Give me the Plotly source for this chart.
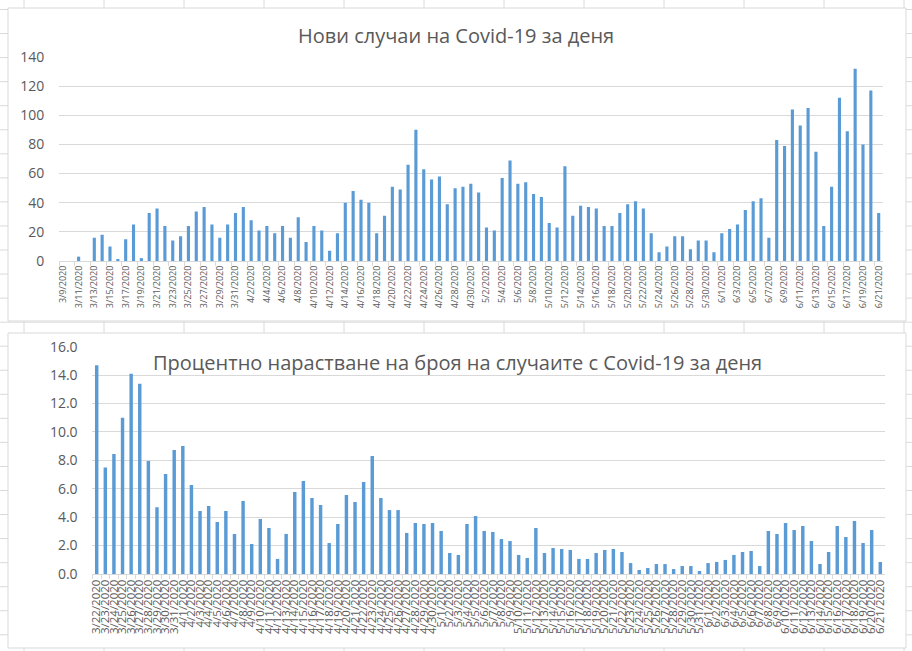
import plotly.graph_objects as go
import pandas as pd

W, H = 912, 651

# ---------------- data ----------------
dates_new = [f"{d.month}/{d.day}/{d.year}" for d in pd.date_range("2020-03-09", "2020-06-21")]
new_cases = [
    0, 0, 3, 0, 16, 18, 10, 1, 15, 25, 2, 33, 36, 24, 14, 17, 24, 34, 37, 25, 16, 25, 33,
    37, 28, 21, 24, 19, 24, 16, 30, 13, 24, 21, 7, 19, 40, 48, 42, 40, 19, 31, 51, 49, 66,
    90, 63, 56, 58, 39, 50, 51, 53,
    47, 23, 21, 57, 69, 53, 54, 46, 44, 26, 23, 65, 31, 38, 37, 36, 24, 24, 33, 39, 41, 36,
    19, 6, 10, 17, 17, 8, 14, 14, 6,
    19, 22, 25, 35, 41, 43, 16, 83, 79, 104, 93, 105, 75, 24, 51, 112, 89, 132, 80, 117, 33,
]

dates_pct = [f"{d.month}/{d.day}/{d.year}" for d in pd.date_range("2020-03-22", "2020-06-21")]
pct_growth = [
    14.7, 7.5, 8.45, 11.0, 14.1, 13.4, 7.96, 4.7, 7.04, 8.73, 9.01, 6.27, 4.44, 4.79, 3.66,
    4.44, 2.82, 5.14, 2.11, 3.87, 3.24, 1.06, 2.82, 5.77, 6.55,
    5.35, 4.86, 2.18, 3.52, 5.56, 5.07, 6.48, 8.31, 5.35, 4.5, 4.5, 2.89, 3.59, 3.52, 3.59,
    3.03, 1.48, 1.34, 3.52, 4.08, 3.03, 2.96, 2.46, 2.32, 1.34, 1.13, 3.24, 1.48, 1.83, 1.76,
    1.69, 1.06, 1.06, 1.48, 1.69,
    1.76, 1.55, 0.77, 0.28, 0.42, 0.70, 0.70, 0.35, 0.56, 0.56, 0.21, 0.77, 0.85, 0.99, 1.34,
    1.55, 1.62, 0.56, 3.03, 2.82, 3.59, 3.10, 3.38, 2.32, 0.70, 1.55, 3.38, 2.61, 3.73, 2.18,
    3.10, 0.85,
]

title_top = "Нови случаи на Covid-19 за деня"
title_bottom = "Процентно нарастване на броя на случаите с Covid-19 за деня"

# ---------------- styling ----------------
BAR = "#5B9BD5"
GRID = "#D9D9D9"
TXT = "#595959"
CELL = "#DADADA"
FONT = "Open Sans"


def px(x):
    return x / W


def py(y):
    return 1 - y / H


fig = go.Figure()
fig.add_trace(go.Bar(x=dates_new, y=new_cases, marker_color=BAR, xaxis="x", yaxis="y",
                     showlegend=False))
fig.add_trace(go.Bar(x=dates_pct, y=pct_growth, marker_color=BAR, xaxis="x2", yaxis="y2",
                     showlegend=False))

shapes = []
# spreadsheet cell grid behind the charts
for k in range(28):
    y = 9.5 + 24.05 * k
    if y > H:
        break
    shapes.append(dict(type="line", xref="paper", yref="paper", x0=0, x1=1, y0=py(y), y1=py(y),
                       line=dict(color=CELL, width=1), layer="below"))
for k in range(12):
    x = 24 + 80 * k
    shapes.append(dict(type="line", xref="paper", yref="paper", x0=px(x), x1=px(x), y0=0, y1=1,
                       line=dict(color=CELL, width=1), layer="below"))
# chart boxes
for (x0, y0, x1, y1) in [(8, 8, 906, 321), (8, 333, 906, 648)]:
    shapes.append(dict(type="rect", xref="paper", yref="paper", x0=px(x0), x1=px(x1),
                       y0=py(y1), y1=py(y0), fillcolor="white",
                       line=dict(color=GRID, width=1), layer="below"))

xcommon = dict(type="category", showgrid=False, showline=True, linecolor=GRID, linewidth=1,
               ticks="outside", ticklen=4, tickcolor=GRID, tickson="boundaries",
               tickangle=-90, automargin=False, fixedrange=True)
ycommon = dict(showgrid=True, gridcolor=GRID, gridwidth=1, zeroline=True, zerolinecolor=GRID,
               showline=False, ticks="outside", ticklen=11, tickcolor="rgba(0,0,0,0)",
               tickfont=dict(family=FONT, size=14, color=TXT), automargin=False,
               fixedrange=True)

fig.update_layout(
    template="none",
    width=W, height=H,
    margin=dict(l=0, r=0, t=0, b=0, pad=0),
    paper_bgcolor="white",
    plot_bgcolor="rgba(0,0,0,0)",
    bargap=0.6,
    shapes=shapes,
    xaxis=dict(xcommon, domain=[px(59), px(882.6)], anchor="y",
               tickmode="linear", tick0=0, dtick=2,
               tickfont=dict(family=FONT, size=9, color=TXT)),
    yaxis=dict(ycommon, domain=[py(261), py(57)], anchor="x", range=[0, 140],
               tickmode="linear", tick0=0, dtick=20),
    xaxis2=dict(xcommon, domain=[px(92.4), px(884.6)], anchor="y2",
                tickmode="linear", tick0=0, dtick=1,
                tickfont=dict(family=FONT, size=11.5, color=TXT)),
    yaxis2=dict(ycommon, domain=[py(574), py(346.7)], anchor="x2", range=[0, 16],
                tickmode="linear", tick0=0, dtick=2, tickformat=".1f"),
    annotations=[
        dict(text=title_top, xref="paper", yref="paper", x=px(456), y=py(36),
             xanchor="center", yanchor="middle", showarrow=False,
             font=dict(family=FONT, size=20, color=TXT)),
        dict(text=title_bottom, xref="paper", yref="paper", x=px(457), y=py(362),
             xanchor="center", yanchor="middle", showarrow=False,
             font=dict(family=FONT, size=20, color=TXT)),
    ],
)

fig.write_html("out.html")
